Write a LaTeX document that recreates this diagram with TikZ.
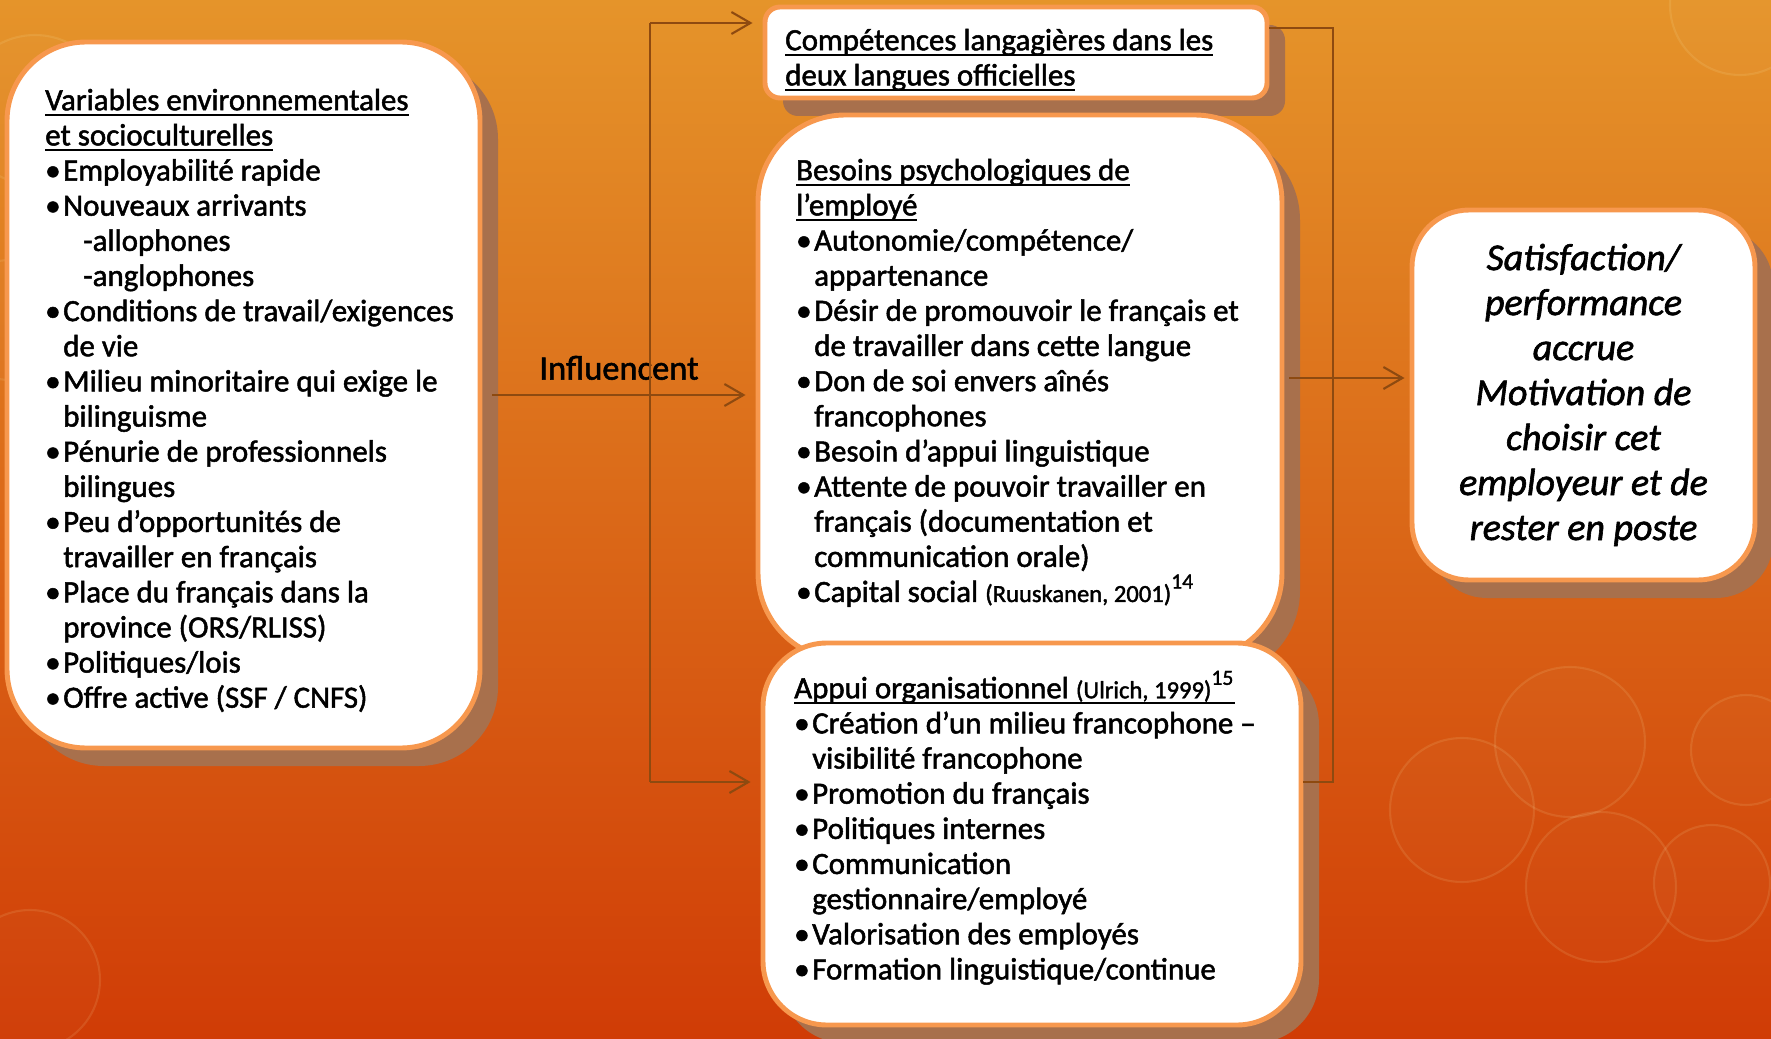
\documentclass[tikz,border=0pt]{standalone}
\usepackage{fontspec}
\setmainfont{Carlito}[FakeBold=1.6]
\usepackage{tikz}
\usetikzlibrary{calc}
\usetikzlibrary{arrows.meta}
\usetikzlibrary{shadows}
\usetikzlibrary{positioning}

\definecolor{bgtop}{RGB}{229,148,42}
\definecolor{bgmid}{RGB}{219,108,28}
\definecolor{bgbot}{RGB}{208,60,6}
\definecolor{boxline}{RGB}{247,152,78}
\definecolor{boxshadow}{RGB}{168,112,76}
\definecolor{linkbrown}{RGB}{142,74,16}

% underlined heading line, rule kept close to the baseline
\newcommand{\ulline}[1]{\smash{\setbox0\hbox{#1}\rlap{\rule[-1.7pt]{\wd0}{0.6pt}}\box0}}
% bullet and hanging indent
\newcommand{\bul}{\makebox[0.18cm][l]{\textbullet}}
\newcommand{\ind}{\hspace*{0.18cm}}
% small reference in the headings
\newcommand{\refnote}[1]{{\fontsize{7}{10}\selectfont #1}}

\tikzset{
  panel/.style={draw=boxline, line width=1.4pt, fill=white, inner sep=0pt,
    drop shadow={shadow xshift=0.18cm, shadow yshift=-0.18cm, fill=boxshadow, opacity=1}},
  listtext/.style={anchor=north west, inner sep=0pt, align=left,
    font=\fontsize{8.8}{10}\selectfont},
  link/.style={draw=linkbrown, line width=0.6pt},
  bokeh/.style={draw=white!75!yellow, draw opacity=0.11, fill=white, fill opacity=0.02, line width=0.6pt}
}

\begin{document}
\begin{tikzpicture}[x=1cm, y=-1cm, >={Straight Barb[length=0.19cm, width=0.22cm]}]
% Page size and background
\useasboundingbox (0,0) rectangle (17.71,10.39);
\shade[top color=bgtop, middle color=bgmid, bottom color=bgbot] (0,0) rectangle (17.71,10.39);
\begin{scope}
\clip (0,0) rectangle (17.71,10.39);
\draw[bokeh] (15.70,7.42) circle (0.75);
\draw[bokeh] (16.01,8.87) circle (0.75);
\draw[bokeh] (14.62,8.10) circle (0.72);
\draw[bokeh] (17.46,7.50) circle (0.55);
\draw[bokeh] (17.12,8.83) circle (0.58);
\draw[bokeh] (17.40,0.05) circle (0.70);
\draw[bokeh] (0.35,1.10) circle (0.75);
\draw[bokeh] (0.10,3.20) circle (0.60);
\draw[bokeh] (0.30,9.80) circle (0.70);
\end{scope}

% Boxes
\node[panel, minimum width=4.73cm, minimum height=7.06cm, rounded corners=0.79cm] (env) at (2.435,3.95) {};
\node[panel, minimum width=5.02cm, minimum height=0.91cm, rounded corners=0.15cm] (comp) at (10.16,0.525) {};
\node[panel, minimum width=5.24cm, minimum height=5.45cm, rounded corners=0.87cm] (besoins) at (10.20,3.875) {};
\node[panel, minimum width=5.38cm, minimum height=3.82cm, rounded corners=0.64cm] (appui) at (10.32,8.34) {};
\node[panel, minimum width=3.43cm, minimum height=3.70cm, rounded corners=0.57cm, align=center,
  font=\itshape\fontsize{10.8}{12.8}\selectfont] (satis) at (15.835,3.95)
  {Satisfaction/\\performance\\accrue\\Motivation de\\choisir cet\\employeur et de\\rester en poste};

% Box texts
\node[listtext] (envtxt) at ([shift={(0.40,0.70)}]env.north west) {%
\ulline{Variables environnementales}\\
\ulline{et socioculturelles}\\
\bul Employabilité rapide\\
\bul Nouveaux arrivants\\
\hspace*{0.38cm}-allophones\\
\hspace*{0.38cm}-anglophones\\
\bul Conditions de travail/exigences\\
\ind de vie\\
\bul Milieu minoritaire qui exige le\\
\ind bilinguisme\\
\bul Pénurie de professionnels\\
\ind bilingues\\
\bul Peu d’opportunités de\\
\ind travailler en français\\
\bul Place du français dans la\\
\ind province (ORS/RLISS)\\
\bul Politiques/lois\\
\bul Offre active (SSF / CNFS)};
\node[listtext] (comptxt) at ([shift={(0.22,0.45)}]comp.north west) {%
\ulline{Compétences langagières dans les}\\
\ulline{deux langues officielles}};
\node[listtext] (besoinstxt) at ([shift={(0.40,0.67)}]besoins.north west) {%
\ulline{Besoins psychologiques de}\\
\ulline{l’employé}\\
\bul Autonomie/compétence/\\
\ind appartenance\\
\bul Désir de promouvoir le français et\\
\ind de travailler dans cette langue\\
\bul Don de soi envers aînés\\
\ind francophones\\
\bul Besoin d’appui linguistique\\
\bul Attente de pouvoir travailler en\\
\ind français (documentation et\\
\ind communication orale)\\
\bul Capital social \refnote{(Ruuskanen, 2001)}\textsuperscript{14}};
\node[listtext] (appuitxt) at ([shift={(0.33,0.57)}]appui.north west) {%
\ulline{Appui organisationnel \refnote{(Ulrich, 1999)}\textsuperscript{15}}\\
\bul Création d’un milieu francophone –\\
\ind visibilité francophone\\
\bul Promotion du français\\
\bul Politiques internes\\
\bul Communication\\
\ind gestionnaire/employé\\
\bul Valorisation des employés\\
\bul Formation linguistique/continue};

% Branch points of the connectors
\coordinate (brtop) at (6.50,0.23);
\coordinate (brbot) at (6.50,7.82);
\coordinate (jtop) at (13.33,0.28);
\coordinate (jmid) at (13.33,3.78);
\coordinate (jbot) at (13.33,7.82);

% Left: influence arrow and bracket
\draw[link, ->, shorten <=0.1cm, shorten >=0.1cm] (env.east) --
  node[above, inner sep=4pt, font=\fontsize{9.8}{11}\selectfont] (infl) {Influencent}
  (env.east -| besoins.west);
\draw[link] (brtop) -- (brbot);
\draw[link, ->, shorten >=0.1cm] (brtop) -- (brtop -| comp.west);
\draw[link, ->, shorten >=0.1cm] (brbot) -- (brbot -| appui.west);

% Right: bracket and arrow to the outcome
\draw[link] (jtop -| comp.east) -- (jtop) -- (jbot) -- (jbot -| appui.east);
\draw[link, ->, shorten <=0.05cm, shorten >=0.05cm] (besoins.east |- jmid) -- (jmid -| satis.west);
\end{tikzpicture}
\end{document}
